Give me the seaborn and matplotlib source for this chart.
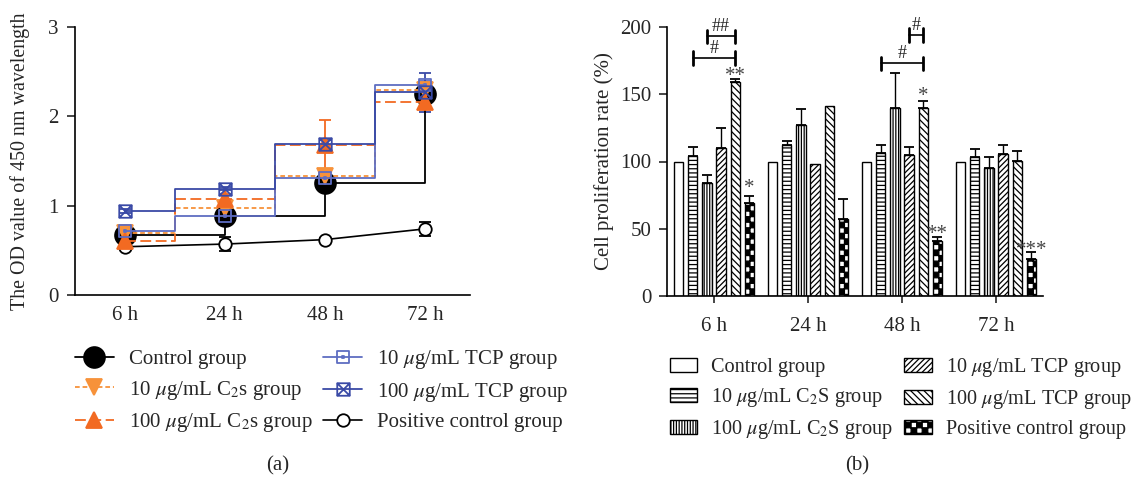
import warnings
warnings.filterwarnings('ignore')
import numpy as np
import pandas as pd
import matplotlib
matplotlib.use('Agg')
import matplotlib.pyplot as plt
import matplotlib.hatch as mhatch
from matplotlib.path import Path
from matplotlib.lines import Line2D
from matplotlib.patches import Patch
import seaborn as sns

# ---------------- data ----------------
times = ['6 h', '24 h', '48 h', '72 h']

# panel (a): OD value at 450 nm
od_control = [0.67, 0.88, 1.25, 2.25]
od_control_err = [0.03, 0.05, 0.04, 0.05]
od_c2s10 = [0.69, 0.97, 1.33, 2.30]
od_c2s10_err = [0.02, 0.04, 0.08, 0.06]
od_c2s100 = [0.61, 1.08, 1.68, 2.16]
od_c2s100_err = [0.03, 0.05, 0.28, 0.08]
od_tcp10 = [0.72, 0.88, 1.31, 2.35]
od_tcp10_err = [0.02, 0.03, 0.03, 0.05]
od_tcp100 = [0.94, 1.19, 1.69, 2.27]
od_tcp100_err = [0.02, 0.02, 0.05, 0.22]
od_pos = [0.54, 0.57, 0.62, 0.74]
od_pos_err = [0.02, 0.08, 0.02, 0.08]

labels_a = ['Control group', r'10 $\mu$g/mL C$_2$s group', r'100 $\mu$g/mL C$_2$s group',
            r'10 $\mu$g/mL TCP group', r'100 $\mu$g/mL TCP group', 'Positive control group']

# panel (b): cell proliferation rate (%)
labels_b = ['Control group', r'10 $\mu$g/mL C$_2$S group', r'100 $\mu$g/mL C$_2$S group',
            r'10 $\mu$g/mL TCP group', r'100 $\mu$g/mL TCP group', 'Positive control group']
rate_control = [100, 100, 100, 100]
rate_control_err = [0, 0, 0, 0]
rate_c2s10 = [104, 112, 106, 103]
rate_c2s10_err = [7, 3, 6, 6]
rate_c2s100 = [84, 127, 140, 95.5]
rate_c2s100_err = [6, 12, 26, 7.5]
rate_tcp10 = [110, 98.5, 104.5, 105.5]
rate_tcp10_err = [15, 0, 6.5, 7]
rate_tcp100 = [159, 141, 140, 100.5]
rate_tcp100_err = [2, 0, 5, 7]
rate_pos = [69, 57, 41, 27.5]
rate_pos_err = [5, 15, 2.5, 5]

# significance marks: (time index, group index, text, level)
stars = [(0, 4, '**', 167), (0, 5, '*', 84), (2, 4, '*', 152), (2, 5, '**', 49.5), (3, 5, '***', 38)]
# brackets: (time index, from group, to group, level, text)
brackets = [(0, 2, 4, 193, '##'), (0, 1, 4, 177, '#'), (2, 3, 4, 194, '#'), (2, 1, 4, 173, '#')]

# ---------------- style ----------------
sns.set_theme(style='ticks')
plt.rcParams['font.family'] = ['Liberation Serif', 'DejaVu Serif']
plt.rcParams['mathtext.fontset'] = 'stix'
plt.rcParams['hatch.linewidth'] = 0.9
FS = 15

# custom checkerboard hatch ('c')
class CheckerHatch(mhatch.HatchPatternBase):
    def __init__(self, hatch, density):
        self.n = 18 if 'c' in hatch else 0
        self.num_vertices = (self.n * self.n // 2) * 5
        self.filled = True

    def set_vertices_and_codes(self, vertices, codes):
        s = 1.0 / self.n
        k = 0
        for i in range(self.n):
            for j in range(self.n):
                if (i + j) % 2 == 0:
                    x0, y0 = i * s, j * s
                    vertices[k:k + 5] = [(x0, y0), (x0 + s, y0), (x0 + s, y0 + s), (x0, y0 + s), (x0, y0)]
                    codes[k] = Path.MOVETO
                    codes[k + 1:k + 4] = Path.LINETO
                    codes[k + 4] = Path.CLOSEPOLY
                    k += 5

mhatch._hatch_types.append(CheckerHatch)

# custom markers
sq = [(-1, -1), (1, -1), (1, 1), (-1, 1), (-1, -1)]
sq_codes = [Path.MOVETO, Path.LINETO, Path.LINETO, Path.LINETO, Path.CLOSEPOLY]
box_x = Path(sq + [(-1, -1), (1, 1), (-1, 1), (1, -1)],
             sq_codes + [Path.MOVETO, Path.LINETO, Path.MOVETO, Path.LINETO])
d = 0.12
box_dot = Path(sq + [(-d, -d), (d, -d), (d, d), (-d, d), (-d, -d)], sq_codes + sq_codes)

c_black = 'black'
c_or_light = '#F7923A'
c_or_dark = '#F26A22'
c_bl_light = '#5E6DC2'
c_bl_dark = '#3A4AA6'

fig = plt.figure(figsize=(11.42, 4.83), dpi=100)
axA = fig.add_axes([75 / 1142, 188 / 483, 395 / 1142, 268 / 483])
axB = fig.add_axes([667 / 1142, 187 / 483, 376 / 1142, 269 / 483])

# ---------------- panel (a) ----------------
xpos = np.arange(len(times))
series = [
    (od_control, od_control_err, c_black, '-', 'steps-post', 'o', 15, c_black, c_black, 1.3),
    (od_pos, od_pos_err, c_black, '-', 'default', 'o', 9, 'white', c_black, 1.2),
    (od_c2s10, od_c2s10_err, c_or_light, (0, (2.6, 1.6)), 'steps-mid', 'v', 11, c_or_light, c_or_light, 1.3),
    (od_c2s100, od_c2s100_err, c_or_dark, (0, (6, 2.5)), 'steps-mid', '^', 11, c_or_dark, c_or_dark, 1.3),
    (od_tcp10, od_tcp10_err, c_bl_light, '-', 'steps-mid', box_dot, 9, 'none', c_bl_light, 1.3),
    (od_tcp100, od_tcp100_err, c_bl_dark, '-', 'steps-mid', box_x, 9, 'none', c_bl_dark, 1.3),
]
for k, (vals, errs, col, ls, dstyle, mk, ms, mfc, mec, lw) in enumerate(series):
    axA.errorbar(xpos, vals, yerr=errs, fmt='none', ecolor=col, elinewidth=1.3,
                 capsize=4, capthick=1.3, zorder=2 + k * 0.1)
    sns.lineplot(x=xpos, y=vals, ax=axA, color=col, linestyle=ls, drawstyle=dstyle,
                 marker=mk, markersize=ms, markerfacecolor=mfc, markeredgecolor=mec,
                 markeredgewidth=1.3, linewidth=lw, zorder=3 + k * 0.1)

axA.set_xlim(-0.495, 3.45)
axA.set_ylim(0, 3)
axA.set_yticks([0, 1, 2, 3])
axA.set_xticks(xpos)
axA.set_xticklabels(times)
axA.tick_params(axis='x', length=0, labelsize=FS, pad=8)
axA.tick_params(axis='y', length=6, width=1.2, labelsize=FS, pad=6)
axA.set_ylabel('The OD value of 450 nm wavelength', fontsize=14.4, labelpad=13)
for s in ['top', 'right']:
    axA.spines[s].set_visible(False)
for s in ['left', 'bottom']:
    axA.spines[s].set_linewidth(1.2)
    axA.spines[s].set_color('black')

handlesA = []
for (vals, errs, col, ls, dstyle, mk, ms, mfc, mec, lw) in series:
    handlesA.append(Line2D([], [], color=col, linestyle=ls, marker=mk, markersize=ms,
                           markerfacecolor=mfc, markeredgecolor=mec, markeredgewidth=1.3, linewidth=lw))
orderA = [0, 2, 3, 4, 5, 1]
fig.legend([handlesA[i] for i in orderA], labels_a, ncol=2, loc='upper left',
           bbox_to_anchor=(0.049, 0.318), frameon=False, fontsize=FS,
           handlelength=1.9, labelspacing=0.45, columnspacing=0.5, handletextpad=0.7)

# ---------------- panel (b) ----------------
vals_b = [rate_control, rate_c2s10, rate_c2s100, rate_tcp10, rate_tcp100, rate_pos]
errs_b = [rate_control_err, rate_c2s10_err, rate_c2s100_err, rate_tcp10_err, rate_tcp100_err, rate_pos_err]
df = pd.DataFrame({
    'time': np.tile(times, len(labels_b)),
    'group': np.repeat(labels_b, len(times)),
    'rate': np.concatenate(vals_b),
    'err': np.concatenate(errs_b),
})
sns.barplot(data=df, x='time', y='rate', hue='group', order=times, hue_order=labels_b,
            palette=['white'] * 6, edgecolor='black', linewidth=1.0, width=0.9, gap=0.35,
            errorbar=None, ax=axB, legend=False)

hatches = ['', '----', '||||||', '//////', '\\\\\\\\\\', 'c']
centers = {}
bar_conts = list(axB.containers)[:len(labels_b)]
for gi, cont in enumerate(bar_conts):
    for ti, bar in enumerate(cont.patches):
        bar.set_hatch(hatches[gi])
        cx = bar.get_x() + bar.get_width() / 2
        centers[(ti, gi)] = cx
        e = errs_b[gi][ti]
        if e > 0:
            axB.errorbar([cx], [vals_b[gi][ti]], yerr=[[0], [e]], fmt='none', ecolor='black',
                         elinewidth=1.0, capsize=3.5, capthick=1.3, zorder=1)

for ti, gi, txt, lev in stars:
    axB.annotate(txt, xy=(centers[(ti, gi)], lev), xytext=(0, -0.47 * FS), textcoords='offset points',
                 ha='center', va='baseline', fontsize=FS, color='#444444')

for ti, g1, g2, lev, txt in brackets:
    x1, x2 = centers[(ti, g1)], centers[(ti, g2)]
    axB.plot([x1, x2], [lev, lev], color='black', lw=1.2)
    axB.plot([x1, x1], [lev - 5, lev + 5], color='black', lw=2.0)
    axB.plot([x2, x2], [lev - 5, lev + 5], color='black', lw=2.0)
    axB.text((x1 + x2) / 2, lev + 1.0, txt, ha='center', va='bottom', fontsize=FS - 2)

axB.set_xlim(-0.5, 3.5)
axB.set_ylim(0, 200)
axB.set_yticks([0, 50, 100, 150, 200])
axB.set_xlabel('')
axB.set_ylabel('Cell proliferation rate (%)', fontsize=FS, labelpad=5)
axB.tick_params(axis='x', length=5, width=1.2, labelsize=FS, pad=10)
axB.tick_params(axis='y', length=6, width=1.2, labelsize=FS, pad=5)
for s in ['top', 'right']:
    axB.spines[s].set_visible(False)
for s in ['left', 'bottom']:
    axB.spines[s].set_linewidth(1.2)
    axB.spines[s].set_color('black')

handlesB = [Patch(facecolor='white', edgecolor='black', hatch=h, linewidth=1.0) for h in hatches]
fig.legend(handlesB, labels_b, ncol=2, loc='upper left', bbox_to_anchor=(0.5705, 0.30),
           frameon=False, fontsize=14.6, handlelength=1.35, handleheight=0.7,
           labelspacing=0.43, columnspacing=0.55, handletextpad=0.7)

fig.text(0.243, 0.035, '(a)', ha='center', va='center', fontsize=FS)
fig.text(0.751, 0.035, '(b)', ha='center', va='center', fontsize=FS)

fig.savefig('out.png', dpi=100)
